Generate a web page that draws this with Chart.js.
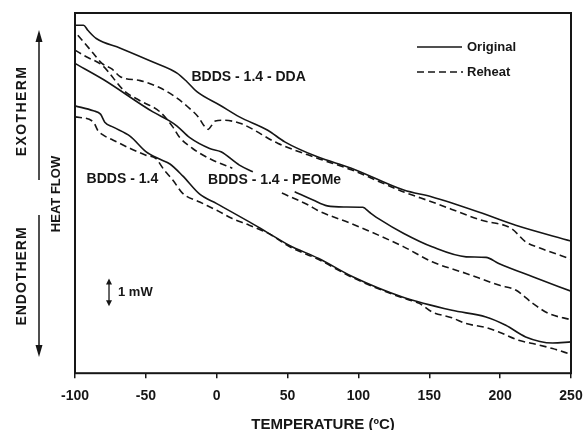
<!DOCTYPE html>
<html lang="en">
  <head>
    <meta charset="UTF-8" />
    <title>DSC Heat Flow</title>
    <style>
      html, body { margin: 0; padding: 0; background: #fff; }
      #wrap { width: 586px; height: 430px; }
    </style>
  </head>
  <script src="https://cdn.jsdelivr.net/npm/chart.js@4.4.1/dist/chart.umd.min.js"></script>
  <body>
    <div id="wrap"><canvas id="dsc-chart"></canvas></div>
    <script>
      // temperature (deg C) and heat flow (mW above the plot floor)
      const xTicks = [-100, -50, 0, 50, 100, 150, 200, 250];

      const ddaOrigT = [-100, -94, -91, -85, -68, -45, -28, -21, -14, 2, 16, 36, 48, 71, 95, 132, 152, 187, 211, 250];
      const ddaOrigQ = [12.56, 12.56, 12.38, 12.08, 11.73, 11.23, 10.83, 10.52, 10.16, 9.68, 9.25, 8.77, 8.35, 7.81, 7.40, 6.61, 6.36, 5.78, 5.34, 4.77];

      const ddaReheatT = [-98, -93, -87, -81, -74, -68, -54, -40, -28, -19, -13, -8.5, -6, -3.5, -1, 5, 17, 43, 71, 95, 132, 152, 187, 208, 218, 228, 250];
      const ddaReheatQ = [12.2, 11.9, 11.54, 11.18, 10.98, 10.7, 10.56, 10.3, 9.93, 9.55, 9.25, 8.9, 8.8, 8.95, 9.1, 9.13, 9.01, 8.3, 7.76, 7.34, 6.54, 6.18, 5.52, 5.22, 4.74, 4.52, 4.12];

      // null = break in the trace behind the "PEOMe" label
      const peoOrigT = [-100, -80, -45, -33, -28, -19, -5, 3, 16, 25.5, 40, 55, 68, 78, 90, 103, 108, 115, 132, 152, 176, 190, 199, 223, 250];
      const peoOrigQ = [11.18, 10.6, 9.43, 9.1, 8.92, 8.5, 8.11, 7.99, 7.51, 7.27, null, 6.55, 6.25, 6.04, 6.0, 5.99, 5.8, 5.55, 5.04, 4.56, 4.2, 4.18, 3.96, 3.48, 2.96];

      const peoReheatT = [-100, -92, -81, -65, -55, -40, -31, -26, -17, -12, -2, 11, 30, 46, 65, 71, 95, 132, 152, 176, 199, 211, 223, 234, 250];
      const peoReheatQ = [11.66, 11.42, 11.12, 10.18, 9.86, 9.43, 8.89, 8.5, 8.11, 7.94, 7.67, 7.4, null, 6.5, 6.06, 5.88, 5.4, 4.56, 4.02, 3.6, 3.18, 3.0, 2.52, 2.16, 1.93];

      const bddsOrigT = [-100, -87, -82, -79, -73, -61, -50, -40, -33, -24, -12, 0, 23, 35, 51, 72, 96, 131, 166, 190, 204, 218, 237, 250];
      const bddsOrigQ = [9.65, 9.47, 9.35, 9.06, 8.88, 8.55, 8.0, 7.72, 7.55, 7.12, 6.46, 6.12, 5.46, 5.1, 4.62, 4.14, 3.48, 2.75, 2.27, 2.03, 1.73, 1.31, 1.09, 1.13];

      const bddsReheatT = [-100, -87, -84, -80, -73, -61, -50, -43, -37, -31, -24, -12, 0, 11, 23, 37, 51, 72, 96, 131, 143, 152, 166, 176, 190, 199, 213, 223, 237, 250];
      const bddsReheatQ = [9.25, 9.07, 8.77, 8.59, 8.41, 8.11, 7.87, 7.75, 7.33, 6.97, 6.49, 6.18, 5.88, 5.58, 5.34, 5.03, 4.58, 4.1, 3.45, 2.72, 2.52, 2.21, 2.0, 1.79, 1.65, 1.49, 1.19, 1.07, 0.89, 0.68];

      const ink = '#161616';
      const fontFamily = '"Liberation Sans", Arial, Helvetica, sans-serif';
      const dash = [7, 4];

      const toPoints = (ts, qs) => ts.map((t, i) => ({ x: t, y: qs[i] }));

      const trace = (label, ts, qs, dashed) => ({
        label: label,
        data: toPoints(ts, qs),
        borderColor: ink,
        backgroundColor: ink,
        borderWidth: 1.6,
        borderDash: dashed ? dash : [],
        pointRadius: 0,
        cubicInterpolationMode: 'monotone',
        spanGaps: false
      });

      const decorations = {
        id: 'decorations',
        afterDraw(chart) {
          const { ctx, chartArea: a, scales: { x, y } } = chart;
          ctx.save();

          // frame round the plot
          ctx.strokeStyle = ink;
          ctx.lineWidth = 2;
          ctx.strokeRect(a.left, a.top, a.right - a.left, a.bottom - a.top);

          // curve names, placed in data units
          ctx.fillStyle = ink;
          ctx.textAlign = 'left';
          ctx.textBaseline = 'middle';
          ctx.font = 'bold 14px ' + fontFamily;
          [
            ['BDDS - 1.4 - DDA', -17.8, 10.7],
            ['BDDS - 1.4', -91.8, 7.0],
            ['BDDS - 1.4 - PEOMe', -6.1, 6.97]
          ].forEach(([text, t, q]) => {
            ctx.fillText(text, x.getPixelForValue(t), y.getPixelForValue(q));
          });

          // legend
          ctx.lineWidth = 1.6;
          ctx.beginPath();
          ctx.moveTo(417, 47);
          ctx.lineTo(462, 47);
          ctx.stroke();
          ctx.setLineDash(dash);
          ctx.beginPath();
          ctx.moveTo(417, 72);
          ctx.lineTo(463, 72);
          ctx.stroke();
          ctx.setLineDash([]);
          ctx.font = 'bold 13px ' + fontFamily;
          ctx.fillText('Original', 467, 47);
          ctx.fillText('Reheat', 467, 72);

          // 1 mW scale bar
          const bx = x.getPixelForValue(-76);
          const by1 = y.getPixelForValue(3.42);
          const by2 = y.getPixelForValue(2.42);
          ctx.lineWidth = 1.3;
          ctx.beginPath();
          ctx.moveTo(bx, by1 + 3);
          ctx.lineTo(bx, by2 - 3);
          ctx.stroke();
          arrowHead(ctx, bx, by1, -1, 3, 6);
          arrowHead(ctx, bx, by2, 1, 3, 6);
          ctx.fillText('1 mW', bx + 9, (by1 + by2) / 2);

          // heat flow direction, left margin
          ctx.lineWidth = 1.5;
          ctx.beginPath();
          ctx.moveTo(39, 180);
          ctx.lineTo(39, 38);
          ctx.moveTo(39, 215);
          ctx.lineTo(39, 349);
          ctx.stroke();
          arrowHead(ctx, 39, 30, -1, 3.5, 12);
          arrowHead(ctx, 39, 357, 1, 3.5, 12);

          sideText(ctx, 'EXOTHERM', 22.5, 111, 'bold 14px ' + fontFamily, '1.4px');
          sideText(ctx, 'ENDOTHERM', 22.5, 276, 'bold 14px ' + fontFamily, '1px');
          sideText(ctx, 'HEAT FLOW', 56.5, 194, 'bold 13px ' + fontFamily, '0px');

          ctx.restore();
        }
      };

      function arrowHead(ctx, px, tip, dir, half, len) {
        ctx.beginPath();
        ctx.moveTo(px, tip);
        ctx.lineTo(px - half, tip - dir * len);
        ctx.lineTo(px + half, tip - dir * len);
        ctx.closePath();
        ctx.fill();
      }

      function sideText(ctx, text, cx, cy, font, spacing) {
        ctx.save();
        ctx.translate(cx, cy);
        ctx.rotate(-Math.PI / 2);
        ctx.font = font;
        ctx.letterSpacing = spacing;
        ctx.textAlign = 'center';
        ctx.textBaseline = 'middle';
        ctx.fillText(text, 0, 0);
        ctx.restore();
      }

      const dscCtx = document.getElementById('dsc-chart').getContext('2d');

      new Chart(dscCtx, {
        type: 'line',
        data: {
          datasets: [
            trace('BDDS-1.4-DDA Original', ddaOrigT, ddaOrigQ, false),
            trace('BDDS-1.4-DDA Reheat', ddaReheatT, ddaReheatQ, true),
            trace('BDDS-1.4-PEOMe Original', peoOrigT, peoOrigQ, false),
            trace('BDDS-1.4-PEOMe Reheat', peoReheatT, peoReheatQ, true),
            trace('BDDS-1.4 Original', bddsOrigT, bddsOrigQ, false),
            trace('BDDS-1.4 Reheat', bddsReheatT, bddsReheatQ, true)
          ]
        },
        options: {
          responsive: true,
          maintainAspectRatio: false,
          animation: false,
          layout: {
            padding: { left: 75, right: 3, top: 13, bottom: -2 }
          },
          plugins: {
            legend: { display: false },
            tooltip: { enabled: false }
          },
          scales: {
            x: {
              type: 'linear',
              min: -100,
              max: 250,
              afterBuildTicks: (scale) => {
                scale.ticks = xTicks.map((v) => ({ value: v }));
              },
              afterFit: (scale) => {
                // keep the 250 label from pushing the frame inwards
                scale.paddingRight = 15;
              },
              border: { display: false },
              grid: {
                drawOnChartArea: false,
                drawTicks: true,
                tickLength: 5,
                color: ink,
                lineWidth: 1.5
              },
              ticks: {
                color: ink,
                padding: 10,
                maxRotation: 0,
                font: { family: fontFamily, size: 14, weight: 'bold' }
              },
              title: {
                display: true,
                text: 'TEMPERATURE (ºC)',
                color: ink,
                padding: { top: 2, bottom: 0 },
                font: { family: fontFamily, size: 15, weight: 'bold', lineHeight: 1 }
              }
            },
            y: {
              type: 'linear',
              display: false,
              min: 0,
              max: 13
            }
          }
        },
        plugins: [decorations]
      });
    </script>
  </body>
</html>
